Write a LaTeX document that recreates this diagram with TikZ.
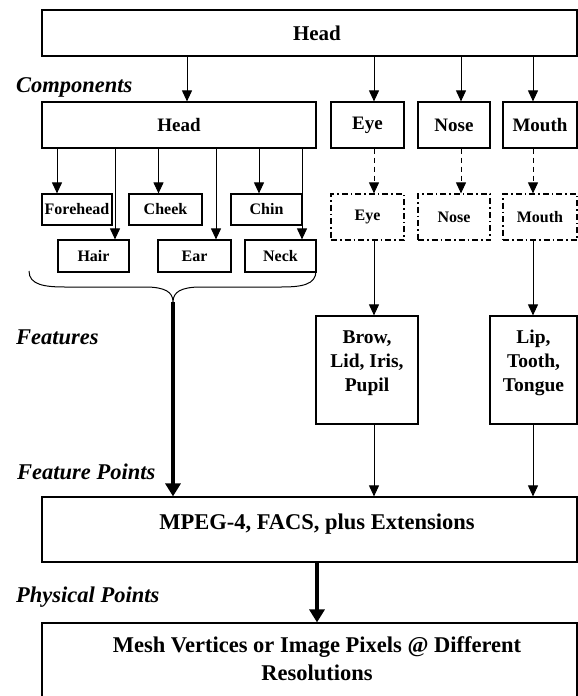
\documentclass[tikz,border=0pt]{standalone}
\usepackage{fontspec}
\setmainfont{Liberation Serif}
\usetikzlibrary{arrows.meta}

\tikzset{
  box/.style={draw, line width=1.2pt, inner sep=0pt, font=\bfseries\fontsize{19}{23}\selectfont},
  smallbox/.style={box, font=\bfseries\fontsize{16}{19}\selectfont},
  dashbox/.style={smallbox, dash pattern=on 6pt off 3pt on 1.5pt off 3pt},
  bigtext/.style={inner sep=0pt, align=center, font=\bfseries\fontsize{22.5}{28}\selectfont},
  midtext/.style={inner sep=0pt, align=center, font=\bfseries\fontsize{19.5}{24}\selectfont},
  level/.style={anchor=west, inner sep=0pt, font=\bfseries\itshape\fontsize{22.5}{27}\selectfont},
  arr/.style={line width=1pt, -{Triangle[length=11pt,width=10pt]}},
  dasharr/.style={arr, dash pattern=on 5pt off 4pt},
  bigarr/.style={line width=4pt, -{Triangle[length=13pt,width=15pt]}}
}

\begin{document}
\begin{tikzpicture}[x=1pt,y=-1pt]
        \useasboundingbox (0,0) rectangle (578,696);
        \clip (0,0) rectangle (578,696);
        \node[box, minimum width=535, minimum height=46](top) at (309.5,33) {};
        \node[bigtext, font=\bfseries\fontsize{21}{25}\selectfont](toptext) at (317,33) {Head};
        \node[level](components) at (16,87) {Components};
        \node[box, minimum width=274, minimum height=46](head) at (179,125) {Head};
        \node[box, minimum width=73, minimum height=46](eye) at (367.5,125) {Eye};
        \node[box, minimum width=72, minimum height=46](nose) at (454,125) {Nose};
        \node[box, minimum width=74, minimum height=46](mouth) at (540,125) {Mouth};
        \node[smallbox, minimum width=70, minimum height=31](forehead) at (77,209.5) {Forehead};
        \node[smallbox, minimum width=73, minimum height=31](cheek) at (165.5,209.5) {Cheek};
        \node[smallbox, minimum width=71, minimum height=31](chin) at (266.5,209.5) {Chin};
        \node[smallbox, minimum width=71, minimum height=32](hair) at (93.5,256) {Hair};
        \node[smallbox, minimum width=73, minimum height=32](ear) at (194.5,256) {Ear};
        \node[smallbox, minimum width=71, minimum height=32](neck) at (280.5,256) {Neck};
        \node[dashbox, minimum width=73, minimum height=46](deye) at (367.5,217) {Eye};
        \node[dashbox, minimum width=72, minimum height=46](dnose) at (454,217) {Nose};
        \node[dashbox, minimum width=74, minimum height=46](dmouth) at (540,217) {Mouth};
        \node[level](features) at (16,337) {Features};
        \node[box, minimum width=102, minimum height=108](brow) at (367,370) {};
        \node[midtext](browtext) at (367,363) {Brow,\\Lid, Iris,\\Pupil};
        \node[box, minimum width=87, minimum height=108](lip) at (533.5,370) {};
        \node[midtext](liptext) at (533.5,363) {Lip,\\Tooth,\\Tongue};
        \node[level](featurepoints) at (17,472) {Feature Points};
        \node[box, minimum width=535, minimum height=65](mpeg) at (309.5,529.5) {};
        \node[bigtext](mpegtext) at (317,524) {MPEG-4, FACS, plus Extensions};
        \node[level](physicalpoints) at (16,597) {Physical Points};
        \node[box, minimum width=535, minimum height=87](mesh) at (309.5,666.5) {};
        \node[bigtext](meshtext) at (317,659) {Mesh Vertices or Image Pixels @ Different\\Resolutions};
        \draw[arr](top.south -| 187,0)--(head.north -| 187,0);
        \draw[arr](top.south -| 374,0)--(eye.north -| 374,0);
        \draw[arr](top.south -| 461,0)--(nose.north -| 461,0);
        \draw[arr](top.south -| 533,0)--(mouth.north -| 533,0);
        \draw[arr](head.south -| 57,0)--(forehead.north -| 57,0);
        \draw[arr](head.south -| 115,0)--(hair.north -| 115,0);
        \draw[arr](head.south -| 158.5,0)--(cheek.north -| 158.5,0);
        \draw[arr](head.south -| 216,0)--(ear.north -| 216,0);
        \draw[arr](head.south -| 259,0)--(chin.north -| 259,0);
        \draw[arr](head.south -| 302,0)--(neck.north -| 302,0);
        \draw[dasharr](eye.south -| 374,0)--(deye.north -| 374,0);
        \draw[dasharr](nose.south -| 461,0)--(dnose.north -| 461,0);
        \draw[dasharr](mouth.south -| 533,0)--(dmouth.north -| 533,0);
        \draw[arr](deye.south -| 374,0)--(brow.north -| 374,0);
        \draw[arr](dmouth.south -| 533,0)--(lip.north -| 533,0);
        \draw[line width=1pt](29,271) .. controls (29,285) and (45,287) .. (65,287) -- (145,287)
          .. controls (165,287) and (173,292) .. (173,302) coordinate(tip)
          .. controls (173,292) and (181,287) .. (201,287) -- (281,287)
          .. controls (301,287) and (316,285) .. (316,271);
        \draw[bigarr](tip)--(mpeg.north -| tip);
        \draw[arr](brow.south -| 374,0)--(mpeg.north -| 374,0);
        \draw[arr](lip.south -| 533,0)--(mpeg.north -| 533,0);
        \draw[bigarr](mpeg.south -| 317,0)--(mesh.north -| 317,0);
        \end{tikzpicture}
\end{document}
